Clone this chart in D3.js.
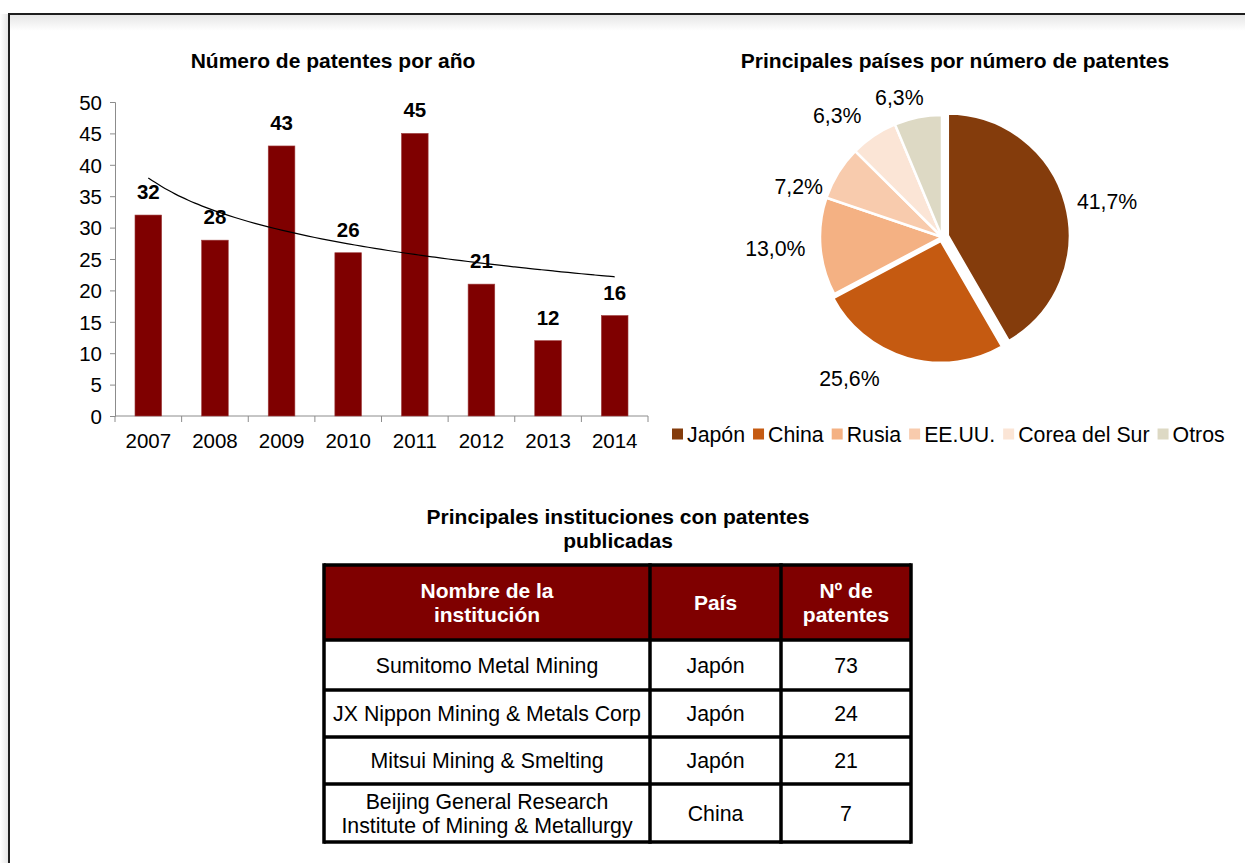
<!DOCTYPE html>
<html lang="es">
<head>
<meta charset="UTF-8" />
<title>Patentes</title>
<style>
  body { margin: 0; background: #fff; }
  svg text { font-family: Arial, "Liberation Sans", sans-serif; fill: #000; }
  .title { font-weight: bold; font-size: 21px; }
  .axis text { font-size: 20.5px; }
  .axis path, .axis line { stroke: #8c8c8c; }
  .barlabel { font-weight: bold; font-size: 20.5px; }
  .pielabel { font-size: 21.3px; }
  .cell { font-size: 21.3px; }
  .head { font-size: 21px; font-weight: bold; fill: #fff; }
</style>
</head>
<body>
<svg id="chart" width="1245" height="863"></svg>
<script src="https://d3js.org/d3.v7.min.js"></script>
<script>
  // bar chart data
  const years = ["2007", "2008", "2009", "2010", "2011", "2012", "2013", "2014"];
  const patents = [32, 28, 43, 26, 45, 21, 12, 16];
  const yTicks = [0, 5, 10, 15, 20, 25, 30, 35, 40, 45, 50];

  // pie data
  const countries = ["Japón", "China", "Rusia", "EE.UU.", "Corea del Sur", "Otros"];
  const shares = [41.7, 25.6, 13.0, 7.2, 6.3, 6.3];
  const pieColors = ["#843c0c", "#c55a11", "#f4b183", "#f8cbad", "#fbe5d6", "#ddd9c4"];

  // table data
  const tableHead = [["Nombre de la", "institución"], ["País"], ["Nº de", "patentes"]];
  const institutions = [["Sumitomo Metal Mining"], ["JX Nippon Mining & Metals Corp"],
    ["Mitsui Mining & Smelting"], ["Beijing General Research", "Institute of Mining & Metallurgy"]];
  const instCountry = ["Japón", "Japón", "Japón", "China"];
  const instCount = [73, 24, 21, 7];

  const svg = d3.select("#chart");

  // frame (text box with soft shadow)
  const defs = svg.append("defs");
  const g1 = defs.append("linearGradient").attr("id", "topShade")
    .attr("x1", 0).attr("y1", 0).attr("x2", 0).attr("y2", 1);
  g1.append("stop").attr("offset", 0).attr("stop-color", "#e6e6e6");
  g1.append("stop").attr("offset", 1).attr("stop-color", "#fff");
  const g2 = defs.append("linearGradient").attr("id", "leftShade")
    .attr("x1", 1).attr("y1", 0).attr("x2", 0).attr("y2", 0);
  g2.append("stop").attr("offset", 0).attr("stop-color", "#e6e6e6");
  g2.append("stop").attr("offset", 1).attr("stop-color", "#fff");
  svg.append("rect").attr("x", 0).attr("y", 14).attr("width", 8).attr("height", 860)
    .attr("fill", "url(#leftShade)");
  svg.append("rect").attr("x", 9).attr("y", 15).attr("width", 1240).attr("height", 16)
    .attr("fill", "url(#topShade)");
  svg.append("path").attr("d", "M9,900V14H1260")
    .attr("fill", "none").attr("stroke", "#1e1e1e").attr("stroke-width", 2);

  // ---------- bar chart ----------
  const x = d3.scaleBand().domain(years).range([115, 648]).paddingInner(0.6).paddingOuter(0.3);
  const y = d3.scaleLinear().domain([0, 50]).range([416, 102]);

  svg.append("text").attr("class", "title").attr("x", 333).attr("y", 68)
    .attr("text-anchor", "middle").text("Número de patentes por año");

  const yAxis = svg.append("g").attr("class", "axis").attr("transform", "translate(115,0)")
    .call(d3.axisLeft(y).tickValues(yTicks).tickSize(5).tickPadding(8));
  yAxis.selectAll("text").attr("dy", "0.36em");

  const xAxis = svg.append("g").attr("class", "axis").attr("transform", "translate(0,416)")
    .call(d3.axisBottom(x).tickSize(0).tickPadding(17));
  xAxis.select(".domain").attr("d", "M115,0H648");
  // category separators on the x axis
  xAxis.selectAll(".sep").data(d3.range(years.length + 1)).enter().append("line")
    .attr("class", "sep")
    .attr("x1", i => 115 + i * x.step()).attr("x2", i => 115 + i * x.step())
    .attr("y1", 0).attr("y2", 6);

  svg.selectAll(".bar").data(patents).enter().append("rect")
    .attr("class", "bar")
    .attr("x", (d, i) => x(years[i]))
    .attr("y", d => y(d))
    .attr("width", x.bandwidth())
    .attr("height", d => y(0) - y(d))
    .attr("fill", "#7f0000")
    .attr("stroke", "#a04040").attr("stroke-width", 0.6);

  svg.selectAll(".barlabel").data(patents).enter().append("text")
    .attr("class", "barlabel")
    .attr("x", (d, i) => x(years[i]) + x.bandwidth() / 2)
    .attr("y", d => y(d) - 16)
    .attr("text-anchor", "middle")
    .text(d => d);

  // logarithmic trend line fitted to the bar values
  const lx = patents.map((d, i) => Math.log(i + 1));
  const mx = d3.mean(lx), my = d3.mean(patents);
  const b = d3.sum(lx, (v, i) => (v - mx) * (patents[i] - my)) / d3.sum(lx, v => (v - mx) ** 2);
  const a = my - b * mx;
  const trendPts = d3.range(1, years.length + 0.001, 0.1);
  svg.append("path")
    .datum(trendPts)
    .attr("fill", "none").attr("stroke", "#000").attr("stroke-width", 1.2)
    .attr("d", d3.line()
      .x(t => x(years[0]) + x.bandwidth() / 2 + (t - 1) * x.step())
      .y(t => y(a + b * Math.log(t)))
      .curve(d3.curveBasis));

  // ---------- pie chart ----------
  const cx = 942, cy = 237, R = 122;
  const explode = [6, 4, 0, 0, 0, 0];
  const labelTurn = [1, 14, 0, -10, -4, -4];   // degrees, best-fit placement
  const labelRad = [140, 155, 137, 130, 146, 137];

  svg.append("text").attr("class", "title").attr("x", 955).attr("y", 68)
    .attr("text-anchor", "middle").text("Principales países por número de patentes");

  const arcs = d3.pie().sort(null).value(d => d)(shares);
  const arc = d3.arc().innerRadius(0).outerRadius(R);
  const pie = svg.append("g").attr("transform", `translate(${cx},${cy})`);

  pie.selectAll("path").data(arcs).enter().append("path")
    .attr("d", arc)
    .attr("fill", (d, i) => pieColors[i])
    .attr("stroke", "#fff").attr("stroke-width", 2.5)
    .attr("transform", (d, i) => {
      const m = (d.startAngle + d.endAngle) / 2;
      return `translate(${Math.sin(m) * explode[i]},${-Math.cos(m) * explode[i]})`;
    });

  pie.selectAll(".pielabel").data(arcs).enter().append("text")
    .attr("class", "pielabel")
    .attr("text-anchor", "middle")
    .attr("dy", "0.36em")
    .text(d => d3.format(".1f")(d.data).replace(".", ",") + "%")
    .each(function (d, i) {
      const m = (d.startAngle + d.endAngle) / 2 + labelTurn[i] * Math.PI / 180;
      const w = this.getComputedTextLength();
      const h = 16;
      const px = Math.sin(m) * labelRad[i] + Math.sin(m) * w / 2;
      const py = -Math.cos(m) * labelRad[i] - Math.cos(m) * h / 2;
      d3.select(this).attr("x", px).attr("y", py);
    });

  // legend
  const legend = svg.append("g").attr("transform", "translate(672,434)");
  let lxPos = 0;
  countries.forEach((c, i) => {
    legend.append("rect").attr("x", lxPos).attr("y", -5.5).attr("width", 11).attr("height", 11)
      .attr("fill", pieColors[i]);
    const t = legend.append("text").attr("class", "pielabel")
      .attr("x", lxPos + 15).attr("y", 0).attr("dy", "0.36em").text(c);
    lxPos += 15 + t.node().getComputedTextLength() + 8;
  });

  // ---------- table ----------
  svg.append("text").attr("class", "title").attr("x", 618).attr("y", 524)
    .attr("text-anchor", "middle").text("Principales instituciones con patentes");
  svg.append("text").attr("class", "title").attr("x", 618).attr("y", 548)
    .attr("text-anchor", "middle").text("publicadas");

  const colX = [324, 650, 781, 911];
  const rowY = [565, 640, 690, 737, 784, 842];
  const table = svg.append("g");

  table.append("rect").attr("x", colX[0]).attr("y", rowY[0])
    .attr("width", colX[3] - colX[0]).attr("height", rowY[1] - rowY[0]).attr("fill", "#7f0000");

  const rows = [tableHead].concat(institutions.map((n, i) => [n, [instCountry[i]], [String(instCount[i])]]));
  rows.forEach((row, r) => {
    row.forEach((lines, c) => {
      const mxC = (colX[c] + colX[c + 1]) / 2;
      const myR = (rowY[r] + rowY[r + 1]) / 2;
      lines.forEach((ln, k) => {
        table.append("text").attr("class", r === 0 ? "head" : "cell")
          .attr("x", mxC)
          .attr("y", myR + (k - (lines.length - 1) / 2) * 24)
          .attr("dy", "0.36em")
          .attr("text-anchor", "middle")
          .text(ln);
      });
    });
  });

  table.selectAll(".hline").data(rowY).enter().append("line")
    .attr("x1", colX[0]).attr("x2", colX[3]).attr("y1", d => d).attr("y2", d => d)
    .attr("stroke", "#000").attr("stroke-width", 3.5);
  table.selectAll(".vline").data(colX).enter().append("line")
    .attr("y1", rowY[0] - 1.75).attr("y2", rowY[rowY.length - 1] + 1.75)
    .attr("x1", d => d).attr("x2", d => d)
    .attr("stroke", "#000").attr("stroke-width", 3.5);
</script>
</body>
</html>
